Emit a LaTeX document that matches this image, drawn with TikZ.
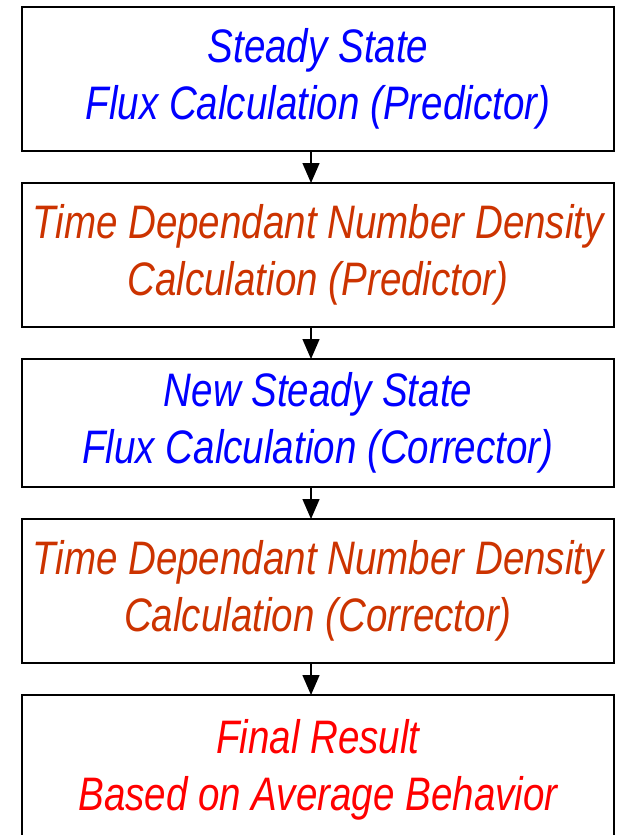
\documentclass[tikz,border=0pt]{standalone}
\usepackage{fontspec}
\setmainfont{Liberation Sans}[FakeStretch=0.82]
\usetikzlibrary{positioning,arrows.meta}
\definecolor{stepblue}{RGB}{0,0,255}
\definecolor{steprust}{RGB}{204,51,0}
\definecolor{stepred}{RGB}{255,0,0}
\tikzset{
  stage/.style={draw,line width=1.6pt,outer sep=0pt,minimum width=592pt,
    align=center,font=\fontsize{47}{57}\selectfont\itshape},
  flow/.style={line width=1.4pt,-{Triangle[length=20pt,width=17pt]}}
}

\begin{document}
\begin{tikzpicture}
        \useasboundingbox (0,0) rectangle (626pt,-835pt);
        \node[stage,minimum height=144pt,text=stepblue,anchor=north] (s1) at (318pt,-7pt) {Steady State\\Flux Calculation (Predictor)};
        \node[stage,minimum height=144pt,text=steprust,below=32pt of s1] (s2) {Time Dependant Number Density\\Calculation (Predictor)};
        \node[stage,minimum height=128pt,text=stepblue,below=32pt of s2] (s3) {New Steady State\\Flux Calculation (Corrector)};
        \node[stage,minimum height=144pt,text=steprust,below=32pt of s3] (s4) {Time Dependant Number Density\\Calculation (Corrector)};
        \node[stage,minimum height=150pt,text=stepred,below=32pt of s4] (s5) {Final Result\\Based on Average Behavior};
        % arrows sit a little left of the box centres
        \draw[flow] ([xshift=-7pt]s1.south) -- ([xshift=-7pt]s2.north);
        \draw[flow] ([xshift=-7pt]s2.south) -- ([xshift=-7pt]s3.north);
        \draw[flow] ([xshift=-7pt]s3.south) -- ([xshift=-7pt]s4.north);
        \draw[flow] ([xshift=-7pt]s4.south) -- ([xshift=-7pt]s5.north);
    \end{tikzpicture}
\end{document}
